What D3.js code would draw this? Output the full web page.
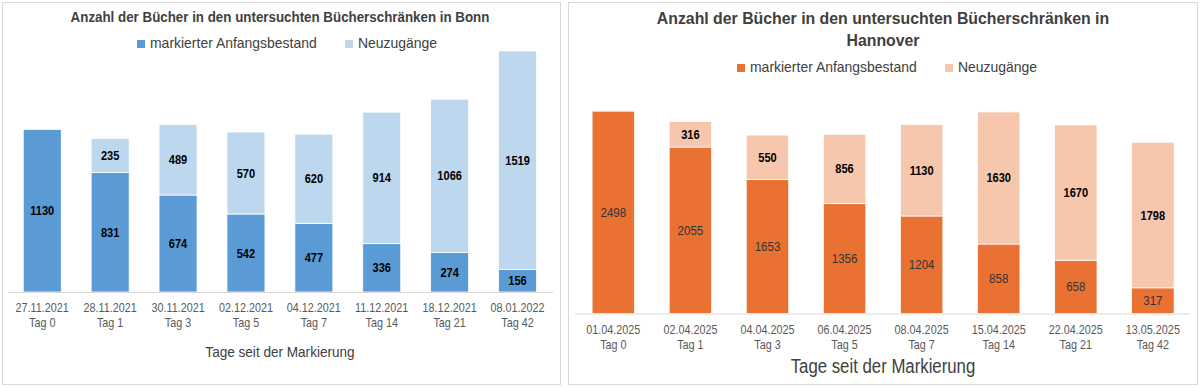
<!DOCTYPE html>
<html>
<head>
<meta charset="utf-8">
<style>
    body { margin: 0; background: #fff; }
    svg { display: block; font-family: 'Liberation Sans', Arial, sans-serif; }
</style>
</head>
<body>
<svg id="chart" width="1200" height="388"></svg>
<script src="https://d3js.org/d3.v7.min.js"></script>
<script>
    // Bonn
    let bonnDates = ["27.11.2021", "28.11.2021", "30.11.2021", "02.12.2021", "04.12.2021", "11.12.2021", "18.12.2021", "08.01.2022"]
    let bonnDays = ["Tag 0", "Tag 1", "Tag 3", "Tag 5", "Tag 7", "Tag 14", "Tag 21", "Tag 42"]
    let bonnBestand = [1130, 831, 674, 542, 477, 336, 274, 156]
    let bonnNeu = [0, 235, 489, 570, 620, 914, 1066, 1519]

    // Hannover
    let hanDates = ["01.04.2025", "02.04.2025", "04.04.2025", "06.04.2025", "08.04.2025", "15.04.2025", "22.04.2025", "13.05.2025"]
    let hanDays = ["Tag 0", "Tag 1", "Tag 3", "Tag 5", "Tag 7", "Tag 14", "Tag 21", "Tag 42"]
    let hanBestand = [2498, 2055, 1653, 1356, 1204, 858, 658, 317]
    let hanNeu = [0, 316, 550, 856, 1130, 1630, 1670, 1798]

    let seriesNames = ["markierter Anfangsbestand", "Neuzugänge"]

    let svg = d3.select("#chart")

    // squeeze text a bit, the original uses a narrow font
    function narrow(sel, k) {
        sel.each(function () {
            let w = this.getComputedTextLength()
            d3.select(this).attr("textLength", w * k).attr("lengthAdjust", "spacingAndGlyphs")
        })
    }

    function drawPanel(cfg) {
        let g = svg.append("g")

        g.append("rect")
            .attr("x", cfg.box[0] + 0.5).attr("y", cfg.box[1] + 0.5)
            .attr("width", cfg.box[2]).attr("height", cfg.box[3])
            .attr("fill", "white").attr("stroke", "#d9d9d9")

        // title
        cfg.title.forEach((t, i) => {
            g.append("text")
                .attr("x", cfg.titleX)
                .attr("y", cfg.titleY + i * cfg.titleSize * 1.35)
                .attr("text-anchor", "middle")
                .attr("font-weight", "bold")
                .attr("font-size", cfg.titleSize)
                .attr("fill", "#404040")
                .text(t)
                .call(narrow, cfg.titleK)
        })

        // legend
        cfg.legend.forEach((lx, i) => {
            g.append("rect")
                .attr("x", lx).attr("y", cfg.legendY - 8)
                .attr("width", 8).attr("height", 8)
                .attr("fill", cfg.colors[i])
            g.append("text")
                .attr("x", lx + 13).attr("y", cfg.legendY)
                .attr("font-size", 15)
                .attr("fill", "#404040")
                .text(seriesNames[i])
                .call(narrow, 0.93)
        })

        let x = d3.scalePoint()
            .domain(cfg.dates)
            .range(cfg.xRange)
            .padding(0.5)

        let y = d3.scaleLinear()
            .domain([0, cfg.yMax])
            .range([cfg.base, cfg.top])

        let rows = cfg.dates.map((d, i) => ({ date: d, a: cfg.bestand[i], b: cfg.neu[i] }))
        let stack = d3.stack().keys(["a", "b"])(rows)

        let layers = g.selectAll(".layer")
            .data(stack)
            .join("g")
            .attr("fill", (d, i) => cfg.colors[i])

        layers.selectAll("rect")
            .data(d => d.filter(s => s[1] > s[0]))
            .join("rect")
            .attr("x", d => x(d.data.date) - cfg.barW / 2)
            .attr("y", d => y(d[1]))
            .attr("width", cfg.barW)
            .attr("height", d => y(d[0]) - y(d[1]))
            .attr("stroke", "white")
            .attr("stroke-width", 0.8)

        // value labels
        stack.forEach((layer, li) => {
            let plain = li == 0 && cfg.plainBottom
            g.selectAll(null)
                .data(layer.filter(s => s[1] > s[0]))
                .join("text")
                .attr("x", d => x(d.data.date))
                .attr("y", d => (y(d[0]) + y(d[1])) / 2 + 4.5)
                .attr("text-anchor", "middle")
                .attr("font-size", plain ? 12.5 : 12)
                .attr("font-weight", plain ? "normal" : "bold")
                .attr("fill", plain ? "#333" : "#000")
                .text(d => d[1] - d[0])
                .call(narrow, 0.92)
        })

        // axis
        g.append("line")
            .attr("x1", cfg.axisX[0]).attr("x2", cfg.axisX[1])
            .attr("y1", cfg.base + 0.5).attr("y2", cfg.base + 0.5)
            .attr("stroke", "#d9d9d9")

        g.selectAll(null)
            .data(cfg.dates)
            .join("text")
            .attr("x", d => x(d)).attr("y", cfg.base + 20)
            .attr("text-anchor", "middle")
            .attr("font-size", 13.5)
            .attr("fill", "#595959")
            .text(d => d)
            .call(narrow, 0.8)

        g.selectAll(null)
            .data(cfg.dates)
            .join("text")
            .attr("x", d => x(d)).attr("y", cfg.base + 35)
            .attr("text-anchor", "middle")
            .attr("font-size", 13.5)
            .attr("fill", "#595959")
            .text((d, i) => cfg.days[i])
            .call(narrow, 0.8)

        g.append("text")
            .attr("x", cfg.titleX).attr("y", cfg.axisTitleY)
            .attr("text-anchor", "middle")
            .attr("font-size", cfg.axisTitleSize)
            .attr("fill", "#404040")
            .text("Tage seit der Markierung")
            .call(narrow, cfg.axisTitleK)
    }

    drawPanel({
        box: [2, 2, 558, 382],
        title: ["Anzahl der Bücher in den untersuchten Bücherschränken in Bonn"],
        titleX: 280, titleY: 22, titleSize: 14.5, titleK: 0.92,
        legendY: 48, legend: [137, 345],
        colors: ["#5b9bd5", "#bdd7ee"],
        dates: bonnDates, days: bonnDays, bestand: bonnBestand, neu: bonnNeu,
        xRange: [8.3, 551.5], barW: 38,
        yMax: 1800, base: 292, top: 33,
        axisX: [8, 553], axisTitleY: 357, axisTitleSize: 15.5, axisTitleK: 0.875,
        plainBottom: false
    })

    drawPanel({
        box: [568, 2, 629, 382],
        title: ["Anzahl der Bücher in den untersuchten Bücherschränken in", "Hannover"],
        titleX: 883, titleY: 24, titleSize: 16.5, titleK: 0.96,
        legendY: 72, legend: [737, 945],
        colors: ["#e97132", "#f6c6ad"],
        dates: hanDates, days: hanDays, bestand: hanBestand, neu: hanNeu,
        xRange: [574.8, 1191.4], barW: 42.5,
        yMax: 2500, base: 313.5, top: 111,
        axisX: [575, 1190], axisTitleY: 373, axisTitleSize: 19.5, axisTitleK: 0.86,
        plainBottom: true
    })
</script>
</body>
</html>
